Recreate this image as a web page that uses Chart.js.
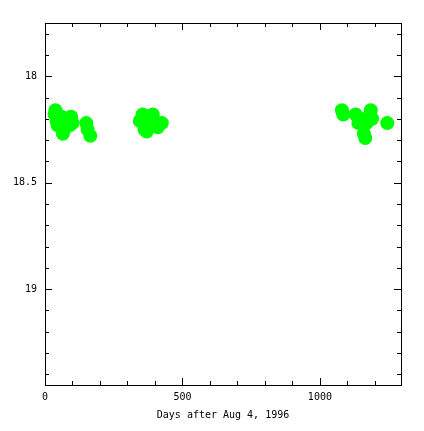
<!DOCTYPE html>
<html>
<head>
<meta charset="utf-8">
<script src="https://cdn.jsdelivr.net/npm/chart.js@4/dist/chart.umd.min.js"></script>
<style>
  html, body { margin: 0; padding: 0; background: #fff; }
  #wrap { width: 424px; height: 431px; }
</style>
</head>
<body>
<div id="wrap"><canvas id="lc" width="424" height="431"></canvas></div>
<script>
// Light curve data (days after Aug 4, 1996 vs magnitude)
const days = [35, 38, 42, 46, 55, 60, 65, 70, 80, 90, 95, 100, 150, 155, 165,
              345, 355, 362, 370, 380, 392, 400, 410, 425,
              1080, 1085, 1130, 1140, 1150, 1160, 1165, 1170, 1185, 1190, 1245];
const mags = [18.18, 18.16, 18.21, 18.23, 18.22, 18.19, 18.27, 18.25, 18.2, 18.23, 18.19, 18.22, 18.22, 18.25, 18.28,
              18.21, 18.18, 18.25, 18.26, 18.2, 18.18, 18.22, 18.24, 18.22,
              18.16, 18.18, 18.18, 18.22, 18.2, 18.27, 18.29, 18.22, 18.16, 18.2, 18.22];

const xMajor = [0, 500, 1000];
const yMajor = [18, 18.5, 19];
const xRange = [0, 1295];
const yRange = [17.75, 19.45];

const labelFont = { family: 'DejaVu Sans Mono', size: 10 };

// Frame with inward major/minor ticks on all four sides
const frameTicks = {
    id: 'frameTicks',
    afterDraw(chart) {
        const ctx = chart.ctx;
        const a = chart.chartArea;
        const xs = chart.scales.x, ys = chart.scales.y;
        ctx.save();
        ctx.strokeStyle = '#000';
        ctx.lineWidth = 1;
        ctx.strokeRect(Math.round(a.left) + 0.5, Math.round(a.top) + 0.5,
                       Math.round(a.right - a.left), Math.round(a.bottom - a.top));
        ctx.beginPath();
        for (let v = 0; v <= xRange[1]; v += 100) {
            const px = Math.round(xs.getPixelForValue(v)) + 0.5;
            const len = v % 500 === 0 ? 7 : 4;
            ctx.moveTo(px, a.bottom); ctx.lineTo(px, a.bottom - len);
            ctx.moveTo(px, a.top); ctx.lineTo(px, a.top + len);
        }
        for (let i = Math.ceil(yRange[0] * 10); i <= Math.floor(yRange[1] * 10); i++) {
            const py = Math.round(ys.getPixelForValue(i / 10)) + 0.5;
            const len = i % 5 === 0 ? 7 : 4;
            ctx.moveTo(a.left, py); ctx.lineTo(a.left + len, py);
            ctx.moveTo(a.right, py); ctx.lineTo(a.right - len, py);
        }
        ctx.stroke();
        ctx.restore();
    }
};

const bgWhite = {
    id: 'bgWhite',
    beforeDraw(chart) {
        const ctx = chart.ctx;
        ctx.save();
        ctx.fillStyle = '#fff';
        ctx.fillRect(0, 0, chart.width, chart.height);
        ctx.restore();
    }
};

new Chart(document.getElementById('lc').getContext('2d'), {
    type: 'scatter',
    data: {
        datasets: [{
            data: days.map((d, i) => ({ x: d, y: mags[i] })),
            backgroundColor: '#00ff00',
            borderWidth: 0,
            pointRadius: 7,
            pointHoverRadius: 7
        }]
    },
    options: {
        responsive: false,
        animation: false,
        layout: { padding: { top: 23, right: 23, left: 0, bottom: 0 } },
        plugins: { legend: { display: false }, tooltip: { enabled: false } },
        scales: {
            x: {
                type: 'linear',
                min: xRange[0],
                max: xRange[1],
                offset: false,
                grid: { display: false, drawTicks: false },
                border: { display: false },
                afterBuildTicks: s => { s.ticks = xMajor.map(v => ({ value: v })); },
                afterFit: s => { s.height = 46; },
                ticks: { color: '#000', font: labelFont, padding: 6, maxRotation: 0,
                         callback: v => String(v) },
                title: {
                    display: true,
                    text: 'Days after Aug 4, 1996',
                    color: '#000',
                    font: labelFont,
                    padding: { top: 2, bottom: 10 }
                }
            },
            y: {
                type: 'linear',
                reverse: true,
                min: yRange[0],
                max: yRange[1],
                grid: { display: false, drawTicks: false },
                border: { display: false },
                afterBuildTicks: s => { s.ticks = yMajor.map(v => ({ value: v })); },
                afterFit: s => { s.width = 45; },
                ticks: { color: '#000', font: labelFont, padding: 8,
                         callback: v => String(v) }
            }
        }
    },
    plugins: [bgWhite, frameTicks]
});
</script>
</body>
</html>
